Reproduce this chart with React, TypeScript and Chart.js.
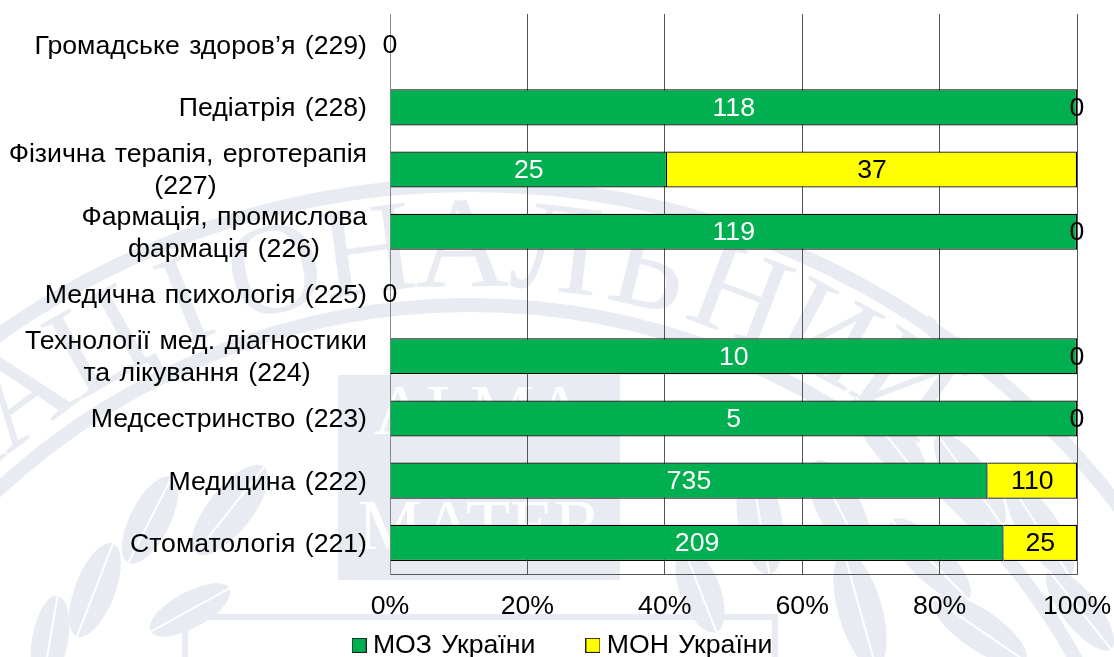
import React, { useEffect, useRef } from "react";
import { Chart, registerables } from "chart.js";

Chart.register(...registerables);

const categories: (string | string[])[] = [
  "Громадське здоров’я (229)",
  "Педіатрія (228)",
  ["Фізична терапія, ерготерапія", "(227)"],
  ["Фармація, промислова", "фармація (226)"],
  "Медична психологія (225)",
  ["Технології мед. діагностики", "та лікування (224)"],
  "Медсестринство (223)",
  "Медицина (222)",
  "Стоматологія (221)",
];
const mozValues = [0, 118, 25, 119, 0, 10, 5, 735, 209];
const monValues = [0, 0, 37, 0, 0, 0, 0, 110, 25];
const seriesNames = ["МОЗ України", "МОН України"];
const seriesColors = ["#00B050", "#FFFF00"];
const labelColors = ["#FFFFFF", "#000000"];

const FONT = '"Liberation Sans", Arial, sans-serif';
const SIZE = 26.67;
const WM = "#E8EBF1";
const WORD_GAP = "2px";

const share = (own: number[], other: number[]) =>
  own.map((v, i) => (v + other[i] === 0 ? 0 : (v / (v + other[i])) * 100));

const makeSwatch = (color: string) => {
  const c = document.createElement("canvas");
  c.width = 15;
  c.height = 15;
  const g = c.getContext("2d")!;
  g.fillStyle = "#222";
  g.fillRect(0, 0, 15, 15);
  g.fillStyle = color;
  g.fillRect(1, 1, 13, 13);
  return c;
};

/* Lines of a two-line tick are centred in their block, so the shorter one gets trailing no-break spaces. */
const centreLines = (lines: string | string[]) => {
  if (!Array.isArray(lines)) return lines;
  const g = document.createElement("canvas").getContext("2d")!;
  g.font = `${SIZE}px ${FONT}`;
  (g as any).wordSpacing = WORD_GAP;
  const widths = lines.map((l) => g.measureText(l).width);
  const max = Math.max(...widths);
  const nbsp = g.measureText("\u00A0").width;
  return lines.map((l, i) => l + "\u00A0".repeat(Math.round((max - widths[i]) / 2 / nbsp)));
};

/* faint emblem behind the chart */
const leaf = (ctx: any, x: number, y: number, len: number, w: number, rot: number) => {
  ctx.save();
  ctx.translate(x, y);
  ctx.rotate(rot);
  ctx.fillStyle = WM;
  ctx.beginPath();
  ctx.ellipse(0, 0, len, w, 0, 0, Math.PI * 2);
  ctx.fill();
  ctx.strokeStyle = "#fff";
  ctx.lineWidth = 2;
  ctx.beginPath();
  ctx.moveTo(-len, 0);
  ctx.lineTo(len, 0);
  ctx.stroke();
  ctx.restore();
};

const emblem = {
  id: "emblem",
  beforeLayout(chart: any) {
    chart.ctx.wordSpacing = WORD_GAP;
  },
  beforeDraw(chart: any) {
    const { ctx } = chart;
    ctx.wordSpacing = WORD_GAP;
    const cx = 470;
    const cy = 1000;
    ctx.save();
    ctx.strokeStyle = WM;
    ctx.lineWidth = 14;
    [815, 695].forEach((r) => {
      ctx.beginPath();
      ctx.arc(cx, cy, r, 0, Math.PI * 2);
      ctx.stroke();
    });
    ctx.fillStyle = WM;
    ctx.font = '130px "Liberation Serif", serif';
    ctx.textAlign = "center";
    ctx.textBaseline = "middle";
    Array.from("НАЦІОНАЛЬНИЙ").forEach((ch, i) => {
      const a = ((i - 9) * 7.2 + 21) * (Math.PI / 180);
      ctx.save();
      ctx.translate(cx + 752 * Math.sin(a), cy - 752 * Math.cos(a));
      ctx.rotate(a);
      ctx.fillText(ch, 0, 4);
      ctx.restore();
    });
    ctx.fillRect(338, 375, 282, 205);
    ctx.fillStyle = "#fff";
    ctx.font = '72px "Liberation Serif", serif';
    ctx.fillText("ALMA", 480, 415);
    ctx.fillText("MATER", 480, 530);
    ctx.strokeStyle = WM;
    ctx.lineWidth = 6;
    ctx.strokeRect(185, 617, 590, 80);
    [
      [150, 520, 48, 20, -1.1],
      [230, 510, 55, 22, -0.9],
      [95, 590, 50, 20, -1.2],
      [190, 610, 45, 18, -0.5],
      [50, 640, 45, 18, -1.4],
      [890, 440, 55, 20, 0.9],
      [970, 480, 55, 20, 0.95],
      [840, 510, 55, 22, 1.1],
      [930, 560, 55, 20, 0.8],
      [1040, 530, 55, 20, 1.0],
      [860, 610, 60, 22, 1.3],
      [980, 630, 55, 20, 0.6],
      [1080, 610, 50, 18, 0.9],
      [760, 520, 55, 22, 1.4],
      [700, 590, 45, 20, 1.2],
    ].forEach(([x, y, l, w, r]) => leaf(ctx, x, y, l, w, r));
    ctx.restore();
  },
};

const valueLabels = {
  id: "valueLabels",
  afterDatasetsDraw(chart: any) {
    const { ctx } = chart;
    ctx.save();
    ctx.font = `${SIZE}px ${FONT}`;
    ctx.textAlign = "center";
    ctx.textBaseline = "middle";
    chart.data.datasets.forEach((ds: any, d: number) => {
      const meta = chart.getDatasetMeta(d);
      meta.data.forEach((bar: any, i: number) => {
        const raw = ds.rawValues[i];
        const empty = mozValues[i] + monValues[i] === 0;
        const { x, base, y } = bar.getProps(["x", "base", "y"], true);
        ctx.fillStyle = raw === 0 ? "#000" : labelColors[d];
        if (raw === 0 && empty && d === 1) return;
        ctx.fillText(String(raw), (x + base) / 2, y + 1);
      });
    });
    ctx.restore();
  },
};

/* The legend's item gap also sets its height, so the box is kept short and placed by hand. */
const legendPlace = {
  id: "legendPlace",
  beforeLayout(chart: any) {
    const l = chart.legend;
    if (!l || l.__wrapped) return;
    const fit = l.fit;
    l.fit = function () {
      fit.call(this);
      this.height = 33;
    };
    l.__wrapped = true;
  },
  afterLayout(chart: any) {
    const l = chart.legend;
    if (!l) return;
    const pad = chart.options.plugins.legend.labels.padding;
    l.top = 645 - pad - 13;
    l.left = 27;
    l.right = 1104;
  },
};

export default function App() {
  const ref = useRef<HTMLCanvasElement>(null);
  useEffect(() => {
    document.body.style.margin = "0";
    const common = {
      borderColor: "#000",
      borderWidth: 1.25,
      barPercentage: 0.58,
      categoryPercentage: 1,
    };
    const chart = new Chart(ref.current!, {
      type: "bar",
      plugins: [emblem, valueLabels, legendPlace],
      data: {
        labels: categories.map(centreLines),
        datasets: [
          {
            label: seriesNames[0],
            data: share(mozValues, monValues),
            rawValues: mozValues,
            backgroundColor: seriesColors[0],
            ...common,
          },
          {
            label: seriesNames[1],
            data: share(monValues, mozValues),
            rawValues: monValues,
            backgroundColor: seriesColors[1],
            ...common,
          },
        ] as any,
      },
      options: {
        indexAxis: "y",
        animation: false,
        responsive: false,
        layout: { padding: { top: 14, right: 37, left: 0, bottom: 0 } },
        scales: {
          x: {
            stacked: true,
            min: 0,
            max: 100,
            afterFit: (s: any) => {
              s.height = 50;
              s.paddingLeft = 0;
              s.paddingRight = 0;
            },
            grid: { color: "#555", lineWidth: 1, drawTicks: false },
            border: { color: "#555" },
            ticks: {
              stepSize: 20,
              color: "#000",
              padding: 17,
              maxRotation: 0,
              font: { family: FONT, size: SIZE },
              callback: (v: any) => `${v}%`,
            },
          },
          y: {
            stacked: true,
            afterFit: (s: any) => {
              s.width = 390;
              s.paddingTop = 0;
              s.paddingBottom = 0;
            },
            grid: { display: false, drawTicks: false },
            border: { color: "#888" },
            ticks: {
              color: "#000",
              padding: 23,
              autoSkip: false,
              labelOffset: 1.5,
              font: { family: FONT, size: SIZE, lineHeight: 1.2 },
            },
          },
        },
        plugins: {
          tooltip: { enabled: false },
          legend: {
            position: "bottom",
            labels: {
              color: "#000",
              font: { family: FONT, size: SIZE },
              usePointStyle: true,
              pointStyleWidth: 1,
              padding: 57,
              generateLabels: () =>
                seriesNames.map((text, i) => ({
                  text,
                  fontColor: "#000",
                  pointStyle: makeSwatch(seriesColors[i]),
                  datasetIndex: i,
                  lineWidth: 0,
                })),
            },
          },
        },
      } as any,
    });
    return () => chart.destroy();
  }, []);
  return (
    <div style={{ width: 1114, height: 657, background: "#fff" }}>
      <canvas ref={ref} width={1114} height={657} style={{ display: "block" }} />
    </div>
  );
}
